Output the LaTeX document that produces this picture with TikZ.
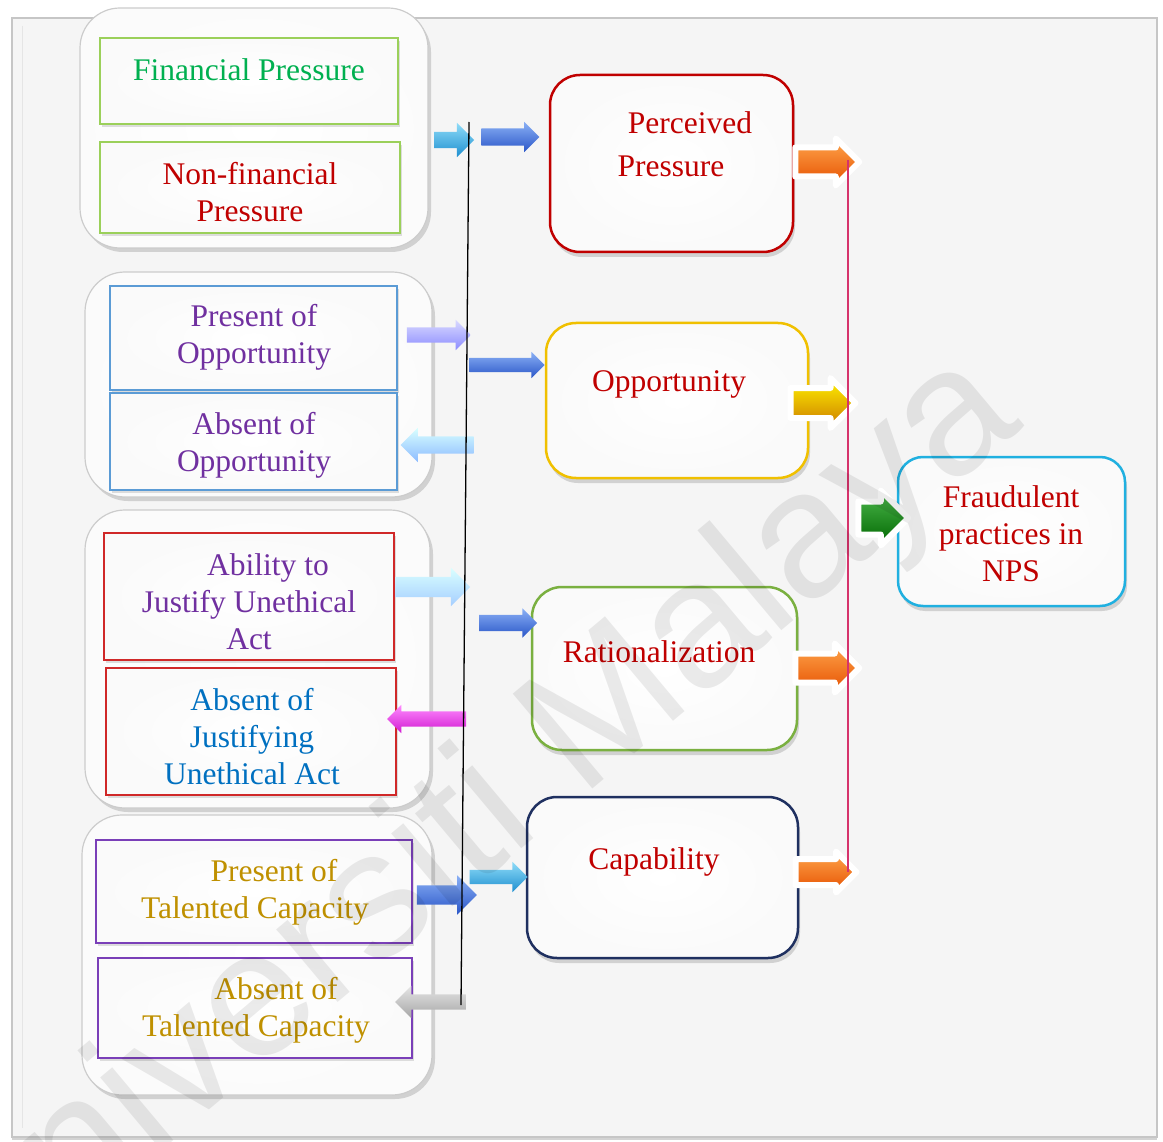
\documentclass[tikz,border=0pt]{standalone}
\usepackage{fontspec}
\setmainfont{Liberation Serif}
\newfontfamily\wmfont{Liberation Sans}
\usetikzlibrary{shapes.arrows,shadows}

\definecolor{grnTxt}{HTML}{00B050}
\definecolor{redTxt}{HTML}{C00000}
\definecolor{purTxt}{HTML}{7030A0}
\definecolor{bluTxt}{HTML}{0070C0}
\definecolor{golTxt}{HTML}{BF9000}
\definecolor{frameBg}{HTML}{F5F5F5}
\definecolor{grnLine}{HTML}{9BD05A}
\definecolor{bluLine}{HTML}{5B9BD5}
\definecolor{redLine}{HTML}{D02828}
\definecolor{purLine}{HTML}{7A3FB8}
\definecolor{yelLine}{HTML}{F0C000}
\definecolor{ratLine}{HTML}{7AB040}
\definecolor{navLine}{HTML}{1F3060}
\definecolor{cyaLine}{HTML}{20B0E0}
\definecolor{pinkLine}{HTML}{D6336C}
\definecolor{cyanTop}{HTML}{8FDCF8}
\definecolor{cyanBot}{HTML}{1E8FD0}
\definecolor{bluTop}{HTML}{8AB0F5}
\definecolor{bluBot}{HTML}{2A56C8}

\tikzset{
  grp/.style={draw=gray!40, line width=1.2pt, inner color=white, outer color=gray!3, rounded corners=40pt,
    drop shadow={opacity=0.3, shadow xshift=3pt, shadow yshift=-4pt}, inner sep=0pt},
  subbox/.style={draw=#1, line width=2.5pt, inner color=white, outer color=gray!4,
    drop shadow={opacity=0.25, shadow xshift=2pt, shadow yshift=-3pt}, inner sep=0pt},
  mainbox/.style={draw=#1, line width=2.5pt, inner color=white, outer color=gray!4, rounded corners=30pt,
    drop shadow={opacity=0.3, shadow xshift=2pt, shadow yshift=-5pt}, inner sep=0pt},
  txt/.style={text=#1, align=center, inner sep=0pt, font=\fontsize{31.5}{37}\selectfont},
  blk/.style={single arrow, draw=none, inner sep=0pt, single arrow head indent=0pt},
  oarr/.style={blk, draw=white, line width=6pt, line join=round,
    drop shadow={opacity=0.3, shadow xshift=1pt, shadow yshift=-2pt}},
}

\begin{document}
\begin{tikzpicture}[x=1pt,y=-1pt]
\useasboundingbox (0,0) rectangle (1163,1142);

%frame
\draw[fill=frameBg, draw=gray!45, line width=1.5pt,
  drop shadow={opacity=0.35, shadow xshift=0pt, shadow yshift=-3pt}] (12,18) rectangle (1157,1137);
\draw[gray!20, line width=1pt] (22,26) -- (22,1128);

%left groups
\node[grp, minimum width=348pt, minimum height=240pt] (gPress) at (254,128) {};
\node[grp, minimum width=347pt, minimum height=225pt] (gOpp) at (258.5,384.5) {};
\node[grp, minimum width=345pt, minimum height=298pt] (gJust) at (257.5,659) {};
\node[grp, minimum width=350pt, minimum height=280pt] (gTal) at (257,955) {};

%inner boxes
\node[subbox=grnLine, minimum width=298pt, minimum height=86pt] (fin) at (249,81) {};
\node[subbox=grnLine, minimum width=300pt, minimum height=91pt] (nonfin) at (250,187.5) {};
\node[subbox=bluLine, minimum width=287pt, minimum height=104pt] (preOpp) at (253.5,338) {};
\node[subbox=bluLine, minimum width=287pt, minimum height=97pt] (absOpp) at (253.5,441.5) {};
\node[subbox=redLine, minimum width=290pt, minimum height=127pt] (ability) at (249,596.5) {};
\node[subbox=redLine, minimum width=290pt, minimum height=127pt] (absJust) at (251,731.5) {};
\node[subbox=purLine, minimum width=316pt, minimum height=103pt] (preTal) at (254,891.5) {};
\node[subbox=purLine, minimum width=314pt, minimum height=100pt] (absTal) at (255,1008) {};

\node[txt=grnTxt] (finT) at (249,70) {Financial Pressure};
\node[txt=redTxt] (nonfinT) at (250,192) {Non-financial\\Pressure};
\node[txt=purTxt] (preOppT) at (254,337) {Present of\\Opportunity};
\node[txt=purTxt] (absOppT) at (254,445) {Absent of\\Opportunity};
\node[txt=purTxt] (abilityT) at (249,602) {\hspace*{38pt}Ability to\\Justify Unethical\\Act};
\node[txt=bluTxt] (absJustT) at (252,737) {Absent of\\Justifying\\Unethical Act};
\node[txt=golTxt] (preTalT) at (255,892) {\hspace*{38pt}Present of\\Talented Capacity};
\node[txt=golTxt] (absTalT) at (256,1010) {\hspace*{40pt}Absent of\\Talented Capacity};

%right boxes
\node[mainbox=redTxt, minimum width=243pt, minimum height=177pt] (perc) at (671.5,163.5) {};
\node[mainbox=yelLine, minimum width=262pt, minimum height=155pt] (opp) at (677,400.5) {};
\node[mainbox=ratLine, minimum width=265pt, minimum height=163pt] (rat) at (664.5,668.5) {};
\node[mainbox=navLine, minimum width=271pt, minimum height=161pt] (cap) at (662.5,877.5) {};
\node[mainbox=cyaLine, rounded corners=25pt, minimum width=227pt, minimum height=149pt] (fraud) at (1011.5,531.5) {};

\node[txt=redTxt] (percT) at (671,144) {\hspace*{38pt}Perceived\\[6pt]Pressure};
\node[txt=redTxt] (oppT) at (669,384) {Opportunity};
\node[txt=redTxt] (ratT) at (659,652) {Rationalization};
\node[txt=redTxt] (capT) at (654,862) {Capability};
\node[txt=redTxt] (fraudT) at (1011,534) {Fraudulent\\practices in\\NPS};

%block arrows
\node[blk, minimum height=40pt, minimum width=34pt, inner ysep=8pt, single arrow head extend=9pt,
  top color=cyanTop, bottom color=cyanBot] (a1) at (450,140) {};
\node[blk, minimum height=58pt, minimum width=30pt, inner ysep=8.5pt, single arrow head extend=6.5pt,
  top color=bluTop, bottom color=bluBot] (a2) at (506,137) {};
\node[blk, minimum height=64pt, minimum width=30pt, inner ysep=7.5pt, single arrow head extend=7.5pt,
  top color=blue!15, bottom color=blue!45!white] (a3) at (435,335) {};
\node[blk, minimum height=75pt, minimum width=26pt, inner ysep=7pt, single arrow head extend=6pt,
  top color=bluTop, bottom color=bluBot] (a4) at (503.5,365) {};
\node[blk, shape border rotate=180, minimum height=73pt, minimum width=34pt, inner ysep=8.5pt, single arrow head extend=8.5pt,
  top color=cyan!15, bottom color=cyan!40!blue!45] (a5) at (441.5,445) {};
\node[blk, minimum height=75pt, minimum width=38pt, inner ysep=10pt, single arrow head extend=9pt,
  top color=cyan!15, bottom color=cyan!45!blue!35] (a6) at (427.5,587) {};
\node[blk, minimum height=58pt, minimum width=29pt, inner ysep=8pt, single arrow head extend=6.5pt,
  top color=bluTop, bottom color=bluBot] (a7) at (504,623) {};
\node[blk, shape border rotate=180, minimum height=79pt, minimum width=28pt, inner ysep=7.5pt, single arrow head extend=6.5pt,
  top color=magenta!45, bottom color=magenta!80!black!90] (a8) at (430.5,719) {};
\node[blk, minimum height=60pt, minimum width=39pt, inner ysep=9.5pt, single arrow head extend=10pt,
  top color=bluTop, bottom color=bluBot] (a9) at (442,895) {};
\node[blk, minimum height=58pt, minimum width=30pt, inner ysep=7pt, single arrow head extend=8pt,
  top color=cyanTop, bottom color=cyanBot] (a10) at (495,877) {};
\node[blk, shape border rotate=180, minimum height=71pt, minimum width=32pt, inner ysep=7.5pt, single arrow head extend=8.5pt,
  top color=gray!20, bottom color=gray!70] (a11) at (434.5,1002) {};

%outlined arrows into the right line
\node[oarr, minimum height=64pt, minimum width=41pt, inner ysep=11.5pt, single arrow head extend=9pt,
  top color=orange!70, bottom color=orange!70!red!90!black] (o1) at (820,162) {};
\node[oarr, minimum height=65pt, minimum width=44pt, inner ysep=12pt, single arrow head extend=10pt,
  top color=yellow!90!orange, bottom color=orange!80!yellow!80!black] (o2) at (815.5,403) {};
\node[oarr, minimum height=64pt, minimum width=43pt, inner ysep=11.5pt, single arrow head extend=10pt,
  top color=orange!70, bottom color=orange!70!red!90!black] (o3) at (820,668) {};
\node[oarr, minimum height=61pt, minimum width=35pt, inner ysep=10pt, single arrow head extend=7.5pt,
  top color=orange!70, bottom color=orange!70!red!90!black] (o4) at (819.5,872) {};
\node[oarr, minimum height=50pt, minimum width=49pt, inner ysep=13.5pt, single arrow head extend=11pt,
  top color=green!60!black!70, bottom color=green!40!black] (o5) at (875,518) {};

%lines
\coordinate (vtop) at (469,122);
\coordinate (vbot) at (461,1005);
\coordinate (ptop) at (848,160);
\coordinate (pbot) at (848,872);
\draw[black, line width=1.3pt] (vtop) -- (vbot);
\draw[pinkLine, line width=1.3pt] (ptop) -- (pbot);

%watermark
\node[rotate=40, anchor=base, text=black, opacity=0.08, inner sep=0pt,
  font=\wmfont\fontsize{180}{180}\selectfont] (wm) at (501,866) {Universiti Malaya};

\end{tikzpicture}
\end{document}
